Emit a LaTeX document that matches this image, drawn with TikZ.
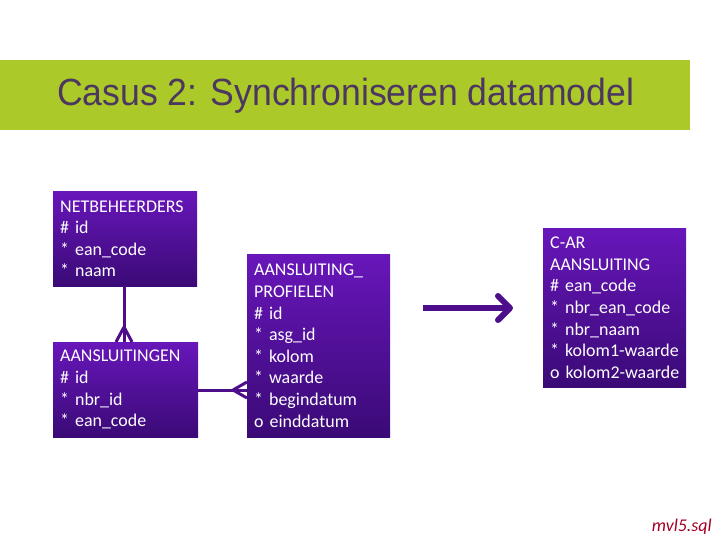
\documentclass[tikz,border=0pt]{standalone}
\usepackage{fontspec}
\setmainfont{Carlito}
\newfontfamily\titlefont[FakeStretch=0.94]{Liberation Sans}
\usetikzlibrary{arrows.meta,calc}

\definecolor{bandgreen}{RGB}{172,201,42}
\definecolor{titlegray}{RGB}{75,55,95}
\definecolor{boxtop}{RGB}{104,22,186}
\definecolor{boxbottom}{RGB}{58,10,118}
\definecolor{linkpurple}{RGB}{78,14,140}
\definecolor{filered}{RGB}{165,0,35}

\tikzset{
  entity/.style={anchor=north west, top color=boxtop, bottom color=boxbottom,
    text=white, inner xsep=7bp, inner ysep=0bp, align=left,
    font=\fontsize{18}{21.7}\selectfont},
  link/.style={draw=linkpurple, line width=3bp},
}

\begin{document}
\begin{tikzpicture}[x=1bp,y=-1bp]
	\useasboundingbox (0,0) rectangle (720,540);
	\fill[bandgreen] (0,60) rectangle (690,130);
	\node[anchor=base west, inner sep=0, text=titlegray,
	  font=\titlefont\fontsize{38}{40}\selectfont] (title) at (57,106)
	  {Casus 2: Synchroniseren datamodel};
	% tabellen
	\node[entity, text width=130bp, minimum height=95bp] (netb) at (53,191)
	  {NETBEHEERDERS\\{}\# id\\{}* ean\_code\\{}* naam};
	\node[entity, text width=131bp, minimum height=95bp] (aansl) at (53,342)
	  {AANSLUITINGEN\\{}\# id\\{}* nbr\_id\\{}* ean\_code};
	\node[entity, text width=129bp, minimum height=183bp] (prof) at (247,254)
	  {AANSLUITING\_\\{}PROFIELEN\\{}\# id\\{}* asg\_id\\{}* kolom\\{}* waarde\\{}* begindatum\\{}o einddatum};
	\node[entity, text width=129bp, minimum height=159bp] (car) at (543,228)
	  {C-AR\\{}AANSLUITING\\{}\# ean\_code\\{}* nbr\_ean\_code\\{}* nbr\_naam\\{}* kolom1-waarde\\{}\mbox{o kolom2-waarde}};
	% relaties met kraaienpoot
	\draw[link] (netb.south -| 124,0) -- (aansl.north -| 124,0);
	\draw[link] ($(aansl.north -| 124,0)+(0,-15)$) -- ($(aansl.north -| 124,0)+(-8,0)$);
	\draw[link] ($(aansl.north -| 124,0)+(0,-15)$) -- ($(aansl.north -| 124,0)+(8,0)$);
	\draw[link] (aansl.east |- 0,390) -- (prof.west |- 0,390);
	\draw[link] ($(prof.west |- 0,390)+(-14,0)$) -- ($(prof.west |- 0,390)+(0,-8)$);
	\draw[link] ($(prof.west |- 0,390)+(-14,0)$) -- ($(prof.west |- 0,390)+(0,8)$);
	% pijl
	\coordinate (arrowstart) at (423,308);
	\coordinate (arrowend) at (513,308);
	\draw[draw=linkpurple, line width=6bp,
	  -{Straight Barb[length=12bp,width=24bp,line cap=round,line join=round]}]
	  (arrowstart) -- (arrowend);
	\node[anchor=base east, inner sep=0, text=filered,
	  font=\itshape\fontsize{18}{20}\selectfont] (file) at (712,531) {mvl5.sql};
\end{tikzpicture}
\end{document}
